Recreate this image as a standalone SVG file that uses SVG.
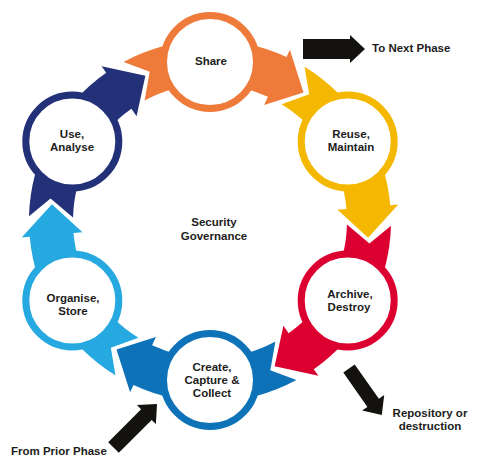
<svg xmlns="http://www.w3.org/2000/svg" width="481" height="471" viewBox="0 0 481 471">
<style>
text{font-family:"Liberation Sans",Arial,sans-serif;font-weight:bold;font-size:11.5px;fill:#1d1d1b;text-anchor:middle}
.ring{fill:#fff;stroke-width:7}
.blk{fill:#14120f}
</style>
<defs>
<path id="seg" d="M -86.4 -159.1 A 181 181 0 0 1 76.5 -164.0 L 79.9 -171.3 L 93.5 -128.6 L 54.1 -116.0 L 57.9 -124.2 A 137 137 0 0 0 -65.4 -120.4 L -60.3 -149.3 Z"/>
</defs>
<rect width="481" height="471" fill="#fff"/>
<g id="share">
<use href="#seg" fill="#ef7b3b" transform="translate(210 221)"/>
<circle class="ring" cx="210" cy="62" r="46.5" stroke="#ef7b3b"/>
<text x="211" y="65">Share</text>
</g>
<g id="reuse">
<use href="#seg" fill="#f5b800" transform="translate(210 221) rotate(60)"/>
<circle class="ring" cx="347.7" cy="141.5" r="46.5" stroke="#f5b800"/>
<text x="351" y="138">Reuse,</text>
<text x="351" y="151">Maintain</text>
</g>
<g id="archive">
<use href="#seg" fill="#dc0030" transform="translate(210 221) rotate(120)"/>
<circle class="ring" cx="347.7" cy="300.5" r="46.5" stroke="#dc0030"/>
<text x="350" y="298">Archive,</text>
<text x="349" y="311">Destroy</text>
</g>
<g id="create">
<use href="#seg" fill="#0d72b8" transform="translate(210 221) rotate(180)"/>
<circle class="ring" cx="210" cy="380" r="46.5" stroke="#0d72b8"/>
<text x="212" y="371">Create,</text>
<text x="212" y="384">Capture &amp;</text>
<text x="212" y="397">Collect</text>
</g>
<g id="organise">
<use href="#seg" fill="#26a8e0" transform="translate(210 221) rotate(240)"/>
<circle class="ring" cx="72.3" cy="300.5" r="46.5" stroke="#26a8e0"/>
<text x="73" y="302">Organise,</text>
<text x="73" y="315">Store</text>
</g>
<g id="use">
<use href="#seg" fill="#233178" transform="translate(210 221) rotate(300)"/>
<circle class="ring" cx="72.3" cy="141.5" r="46.5" stroke="#233178"/>
<text x="72" y="138">Use,</text>
<text x="72" y="151">Analyse</text>
</g>
<g id="governance">
<text x="214" y="226">Security</text>
<text x="214" y="240">Governance</text>
</g>
<g id="connectors">
<polygon class="blk" points="303,39 350,39 350,35 365,49 350,63 350,59 303,59"/>
<polygon class="blk" points="354.7,364.5 378.9,398.8 384.2,395.1 381.8,415.1 362.1,410.6 367.4,406.9 343.3,372.5"/>
<polygon class="blk" points="108.2,442.2 141.1,409.3 136.9,405.1 157,404 155.9,424.1 151.7,419.9 118.8,452.8"/>
</g>
<g id="labels">
<text x="372" y="52" style="text-anchor:start">To Next Phase</text>
<text x="430" y="417">Repository or</text>
<text x="430" y="430">destruction</text>
<text x="11" y="455" style="text-anchor:start">From Prior Phase</text>
</g>
</svg>
